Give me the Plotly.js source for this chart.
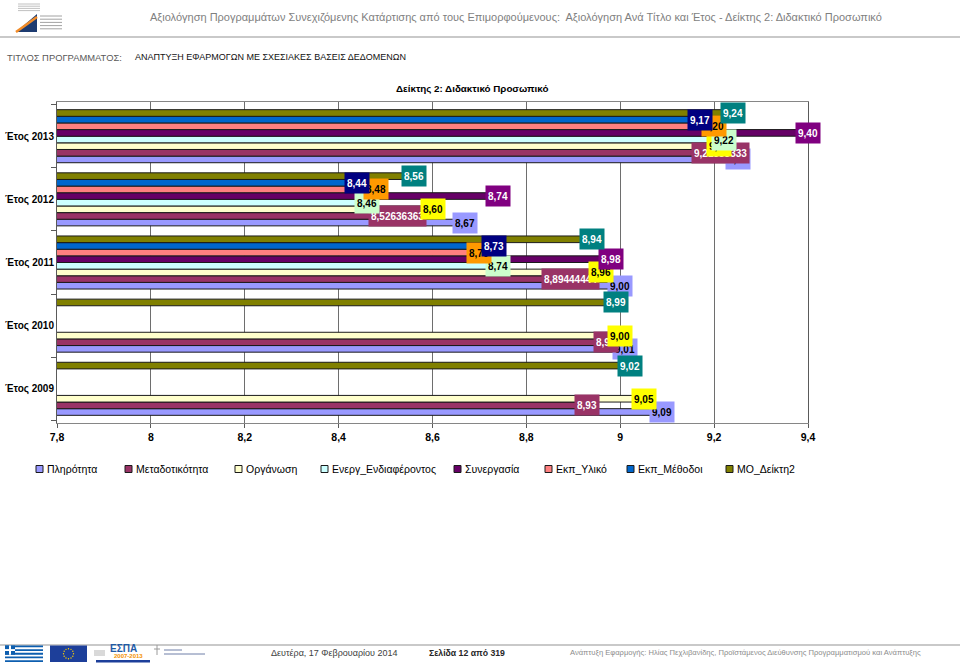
<!DOCTYPE html>
<html><head><meta charset="utf-8">
<script src="https://cdn.plot.ly/plotly-3.0.1.min.js"></script>
<style>html,body{margin:0;padding:0;background:#fff;overflow:hidden}#chart{width:960px;height:667px}</style>
</head><body><div id="chart"></div>
<script>
// ---- DATA ----
const categories = ['Έτος 2009', 'Έτος 2010', 'Έτος 2011', 'Έτος 2012', 'Έτος 2013'];
const seriesNames = ['Πληρότητα', 'Μεταδοτικότητα', 'Οργάνωση', 'Ενεργ_Ενδιαφέροντος', 'Συνεργασία', 'Εκπ_Υλικό', 'Εκπ_Μέθοδοι', 'ΜΟ_Δείκτη2'];
const pliriotita     = [9.09, 9.01, 9.00, 8.67, 9.25];
const metadotikotita = [8.93, 8.97, 8.89444444, 8.52636363, 9.21333333];
const organosi       = [9.05, 9.00, 8.96, 8.60, 9.21];
const energEndiaf    = [null, null, 8.74, 8.46, 9.22];
const synergasia     = [null, null, 8.98, 8.74, 9.40];
const ekpYliko       = [null, null, 8.70, 8.48, 9.20];
const ekpMethodoi    = [null, null, 8.73, 8.44, 9.17];
const moDeikti2      = [9.02, 8.99, 8.94, 8.56, 9.24];
const xTickValues    = [7.8, 8, 8.2, 8.4, 8.6, 8.8, 9, 9.2, 9.4];

const chartTitle = 'Δείκτης 2: Διδακτικό Προσωπικό';
const headerTitle = 'Αξιολόγηση Προγραμμάτων Συνεχιζόμενης Κατάρτισης από τους Επιμορφούμενους:  Αξιολόγηση Ανά Τίτλο και Έτος - Δείκτης 2: Διδακτικό Προσωπικό';
const programLabel = 'ΤΙΤΛΟΣ ΠΡΟΓΡΑΜΜΑΤΟΣ:';
const programName = 'ΑΝΑΠΤΥΞΗ ΕΦΑΡΜΟΓΩΝ ΜΕ ΣΧΕΣΙΑΚΕΣ ΒΑΣΕΙΣ ΔΕΔΟΜΕΝΩΝ';
const footerDate = 'Δευτέρα, 17 Φεβρουαρίου 2014';
const footerPage = 'Σελίδα 12 από 319';
const footerCredit = 'Ανάπτυξη Εφαρμογής: Ηλίας Πεχλιβανίδης, Προϊστάμενος Διεύθυνσης Προγραμματισμού και Ανάπτυξης';

// ---- STYLE ----
const seriesValues = [pliriotita, metadotikotita, organosi, energEndiaf, synergasia, ekpYliko, ekpMethodoi, moDeikti2];
const barColors = ['#9999FF', '#993366', '#FFFFCC', '#CCFFFF', '#660066', '#FF8080', '#0066CC', '#808000'];
const labelBg   = ['#9999FF', '#993366', '#FFFF00', '#CCFFCC', '#800080', '#FF9900', '#000080', '#008080'];
const labelFg   = ['#000000', '#FFFFFF', '#000000', '#000000', '#FFFFFF', '#000000', '#FFFFFF', '#FFFFFF'];
const legendTextX = [45, 134, 244, 330, 463, 554, 636, 735];
const FONT = '"Liberation Sans", Arial, sans-serif';
const BARGAP = 0.16;

const L = 57, R = 808, T = 102, B = 423;
const X = px => (px - L) / (R - L);
const Y = py => (B - py) / (B - T);

function fmt(v) {
  const r = Math.round(v * 100);
  const s = Math.abs(v * 100 - r) < 1e-9 ? v.toFixed(2) : String(v);
  return s.replace('.', ',');
}

const traces = seriesValues.map((vals, i) => ({
  type: 'bar', orientation: 'h', name: seriesNames[i],
  y: categories, x: vals,
  marker: { color: barColors[i], line: { color: '#1a1a1a', width: 1 } },
  hoverinfo: 'skip', showlegend: false
}));

const annotations = [];
const shapes = [];
const slot = (1 - BARGAP) / seriesValues.length;
seriesValues.forEach((vals, i) => {
  const off = -(1 - BARGAP) / 2 + (i + 0.5) * slot;
  vals.forEach((v, c) => {
    if (v == null) return;
    annotations.push({
      xref: 'x', yref: 'y', x: v, y: c + off, text: fmt(v), showarrow: false,
      xanchor: 'center', yanchor: 'middle', bgcolor: labelBg[i], borderpad: 2, height: 16,
      font: { color: labelFg[i], size: 10, family: FONT, weight: 'bold' }
    });
  });
});

function txt(text, px, py, opts) {
  annotations.push(Object.assign({
    xref: 'paper', yref: 'paper', x: X(px), y: Y(py), text: text, showarrow: false,
    xanchor: 'left', yanchor: 'middle', font: { size: 10, family: FONT, color: '#404040' }
  }, opts || {}));
}
function rect(x0, y0, x1, y1, fill, line) {
  shapes.push({ type: 'rect', xref: 'paper', yref: 'paper', x0: X(x0), x1: X(x1), y0: Y(y1), y1: Y(y0),
    fillcolor: fill, line: line || { width: 0 }, layer: 'above' });
}
function seg(x0, y0, x1, y1, color, w) {
  shapes.push({ type: 'line', xref: 'paper', yref: 'paper', x0: X(x0), x1: X(x1), y0: Y(y0), y1: Y(y1),
    line: { color: color, width: w }, layer: 'above' });
}

// legend (one row, as in the reference)
seriesNames.forEach((name, i) => {
  const tx = legendTextX[i];
  rect(tx - 9, 465.5, tx - 2, 472.5, barColors[i], { color: '#1a1a1a', width: 1 });
  txt(name, tx, 469, { font: { size: 10.5, family: FONT, color: '#000' } });
});

txt(headerTitle, 148, 17, { font: { size: 11, family: FONT, color: '#7f7f7f' } });
txt(programLabel, 5, 57, { font: { size: 9.4, family: FONT, color: '#595959' } });
txt(programName, 133, 57, { font: { size: 9, family: FONT, color: '#111111' } });
txt(chartTitle, 472, 88, { xanchor: 'center', font: { size: 9.8, family: FONT, color: '#000', weight: 'bold' } });
txt(footerDate, 269, 653, { font: { size: 9, family: FONT, color: '#404040' } });
txt(footerPage, 427, 653, { font: { size: 8.7, family: FONT, color: '#262626', weight: 'bold' } });
txt(footerCredit, 568, 652, { font: { size: 7.6, family: FONT, color: '#8c8c8c' } });
txt('ΕΣΠΑ', 108, 648.5, { font: { size: 10, family: FONT, color: '#1f5aa6', weight: 'bold' } });
txt('2007-2013', 112, 655.5, { font: { size: 6, family: FONT, color: '#f39200', weight: 'bold' } });

// header / footer rules
seg(0, 37, 960, 37, '#c9c9c9', 2);
seg(0, 645, 960, 645, '#c9c9c9', 2);
// header logo
for (let k = 0; k < 4; k++) seg(18, 4 + k * 2.2, 40, 4 + k * 2.2, '#b0b0b0', 0.8);
shapes.push({ type: 'path', xref: 'paper', yref: 'paper', layer: 'above',
  path: `M${X(16)},${Y(32)} L${X(37)},${Y(14)} L${X(37)},${Y(32)} Z`, fillcolor: '#1d3b70', line: { width: 0 } });
seg(16, 32, 37, 17, '#f28c28', 2.5);
for (let k = 0; k < 5; k++) seg(40, 16 + k * 3.2, 62, 16 + k * 3.2, '#8a8a8a', 0.8);
// Greek flag
rect(5, 645.5, 43, 662, '#0d5eaf');
for (let k = 1; k < 9; k += 2) rect(5, 645.5 + k * 1.83, 43, 645.5 + (k + 1) * 1.83, '#ffffff');
rect(5, 645.5, 15, 654.7, '#0d5eaf');
rect(9, 645.5, 11, 654.7, '#ffffff');
rect(5, 649.1, 15, 651.0, '#ffffff');
// EU flag
rect(50, 645.5, 87, 662, '#1d3f9a');
for (let k = 0; k < 12; k++) {
  const a = k * Math.PI / 6, cx = 68.5 + 5 * Math.cos(a), cy = 653.7 + 5 * Math.sin(a);
  shapes.push({ type: 'circle', xref: 'paper', yref: 'paper', layer: 'above',
    x0: X(cx - 0.7), x1: X(cx + 0.7), y0: Y(cy + 0.7), y1: Y(cy - 0.7), fillcolor: '#ffd200', line: { width: 0 } });
}
// ESPA base bar and ministry logo
rect(96, 660, 150, 662.5, '#1d3f9a');
rect(94, 650, 105, 656, '#d9d9d9');
seg(157, 645, 157, 655, '#9a9a9a', 1);
seg(154, 649, 160, 649, '#9a9a9a', 1);
seg(164, 650, 182, 650, '#6f7fa8', 1);
seg(164, 654, 205, 654, '#6f7fa8', 1);

const layout = {
  width: 960, height: 667,
  margin: { l: L, r: 960 - R, t: T, b: 667 - B, pad: 0 },
  paper_bgcolor: '#ffffff', plot_bgcolor: '#ffffff',
  barmode: 'group', bargap: BARGAP, bargroupgap: 0,
  showlegend: false,
  xaxis: {
    range: [7.8, 9.4], tickvals: xTickValues, ticktext: xTickValues.map(v => String(v).replace('.', ',')),
    showgrid: true, gridcolor: '#6e6e6e', gridwidth: 1, zeroline: false,
    showline: true, linecolor: '#868686', linewidth: 1, mirror: true,
    ticks: 'outside', ticklen: 4, tickcolor: '#5a5a5a',
    tickfont: { size: 10.5, family: FONT, color: '#000', weight: 'bold' }, fixedrange: true
  },
  yaxis: {
    type: 'category', categoryorder: 'array', categoryarray: categories,
    showgrid: false, showline: true, linecolor: '#5a5a5a', linewidth: 1, mirror: true,
    ticks: 'outside', ticklen: 5, tickcolor: '#5a5a5a', tickson: 'boundaries',
    tickfont: { size: 10, family: FONT, color: '#000', weight: 'bold' }, fixedrange: true
  },
  annotations: annotations,
  shapes: shapes
};

Plotly.newPlot('chart', traces, layout, { displayModeBar: false, staticPlot: true });
</script>
</body></html>
